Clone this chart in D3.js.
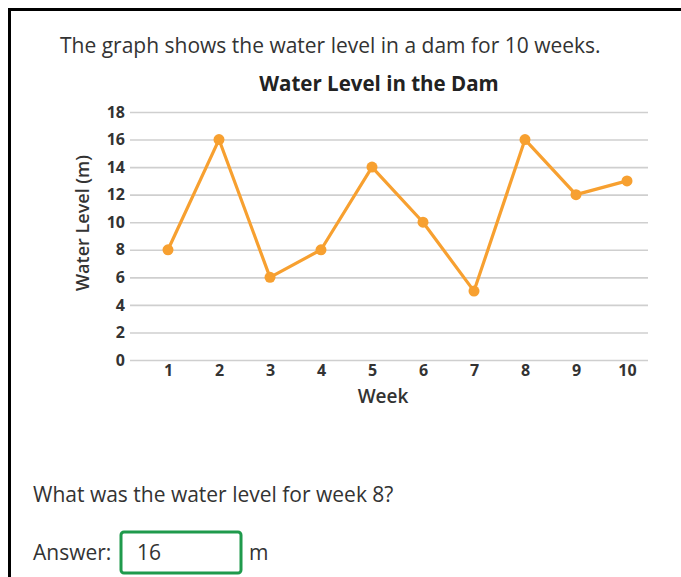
<!DOCTYPE html>
<html>
<head>
<meta charset="utf-8">
<script src="https://cdn.jsdelivr.net/npm/d3@7"></script>
<style>
  html, body { margin: 0; padding: 0; background: #fff; }
  svg { display: block; font-family: "Open Sans", sans-serif; }
</style>
</head>
<body>
<svg id="chart" width="681" height="577"></svg>
<script>
'use strict';

// data
var weeks = [1, 2, 3, 4, 5, 6, 7, 8, 9, 10];
var levels = [8, 16, 6, 8, 14, 10, 5, 16, 12, 13];
var yTicks = [0, 2, 4, 6, 8, 10, 12, 14, 16, 18];

var svg = d3.select('#chart');

// page frame
svg.append('path')
  .attr('d', 'M9.5,577 V9.5 H681')
  .attr('fill', 'none')
  .attr('stroke', '#000')
  .attr('stroke-width', 3);

svg.append('text')
  .attr('x', 60).attr('y', 53)
  .attr('font-size', 21).attr('fill', '#333')
  .text('The graph shows the water level in a dam for 10 weeks.');

var x = d3.scaleLinear().domain([1, 10]).range([168, 627]);
var y = d3.scaleLinear().domain([0, 18]).range([360, 112]);

// title
svg.append('text')
  .attr('x', 379).attr('y', 91)
  .attr('text-anchor', 'middle')
  .attr('font-size', 20.5).attr('font-weight', 'bold').attr('fill', '#222')
  .text('Water Level in the Dam');

// gridlines + y labels
var yAxis = d3.axisLeft(y).tickValues(yTicks).tickSize(-518).tickPadding(5);
var gy = svg.append('g').attr('transform', 'translate(130,0)').call(yAxis);
gy.select('.domain').remove();
gy.selectAll('.tick line').attr('stroke', '#cfcfcf').attr('stroke-width', 1.6);
gy.selectAll('.tick text')
  .attr('font-family', '"Open Sans", sans-serif')
  .attr('font-size', 16).attr('font-weight', 'bold').attr('fill', '#333');

// x labels
var xAxis = d3.axisBottom(x).tickValues(weeks).tickSize(0).tickPadding(5);
var gx = svg.append('g').attr('transform', 'translate(0,360)').call(xAxis);
gx.select('.domain').remove();
gx.selectAll('.tick text')
  .attr('font-family', '"Open Sans", sans-serif')
  .attr('font-size', 16).attr('font-weight', 'bold').attr('fill', '#333');

// axis titles
svg.append('text')
  .attr('x', 383).attr('y', 403)
  .attr('text-anchor', 'middle')
  .attr('font-size', 19).attr('font-weight', 600).attr('fill', '#333')
  .text('Week');

svg.append('text')
  .attr('transform', 'translate(89,223) rotate(-90)')
  .attr('text-anchor', 'middle')
  .attr('font-size', 18).attr('font-weight', 600).attr('fill', '#333')
  .text('Water Level (m)');

// series
var pts = weeks.map(function(w, i) { return { w: w, v: levels[i] }; });
var line = d3.line()
  .x(function(d) { return x(d.w); })
  .y(function(d) { return y(d.v); });

svg.append('path')
  .datum(pts)
  .attr('d', line)
  .attr('fill', 'none')
  .attr('stroke', '#f7a030')
  .attr('stroke-width', 3.2)
  .attr('stroke-linejoin', 'round');

svg.selectAll('circle.pt')
  .data(pts)
  .enter().append('circle')
  .attr('class', 'pt')
  .attr('cx', function(d) { return x(d.w); })
  .attr('cy', function(d) { return y(d.v); })
  .attr('r', 5.5)
  .attr('fill', '#f7a030');

// question
svg.append('text')
  .attr('x', 33).attr('y', 502)
  .attr('font-size', 21).attr('fill', '#333')
  .text('What was the water level for week 8?');

svg.append('text')
  .attr('x', 33).attr('y', 560)
  .attr('font-size', 21).attr('fill', '#333')
  .text('Answer:');

svg.append('rect')
  .attr('x', 121).attr('y', 532)
  .attr('width', 120).attr('height', 41)
  .attr('rx', 3)
  .attr('fill', '#fff')
  .attr('stroke', '#1f9a4c')
  .attr('stroke-width', 3);

svg.append('text')
  .attr('x', 137).attr('y', 560)
  .attr('font-size', 21).attr('fill', '#333')
  .text('16');

svg.append('text')
  .attr('x', 249).attr('y', 560)
  .attr('font-size', 21).attr('fill', '#333')
  .text('m');
</script>
</body>
</html>
